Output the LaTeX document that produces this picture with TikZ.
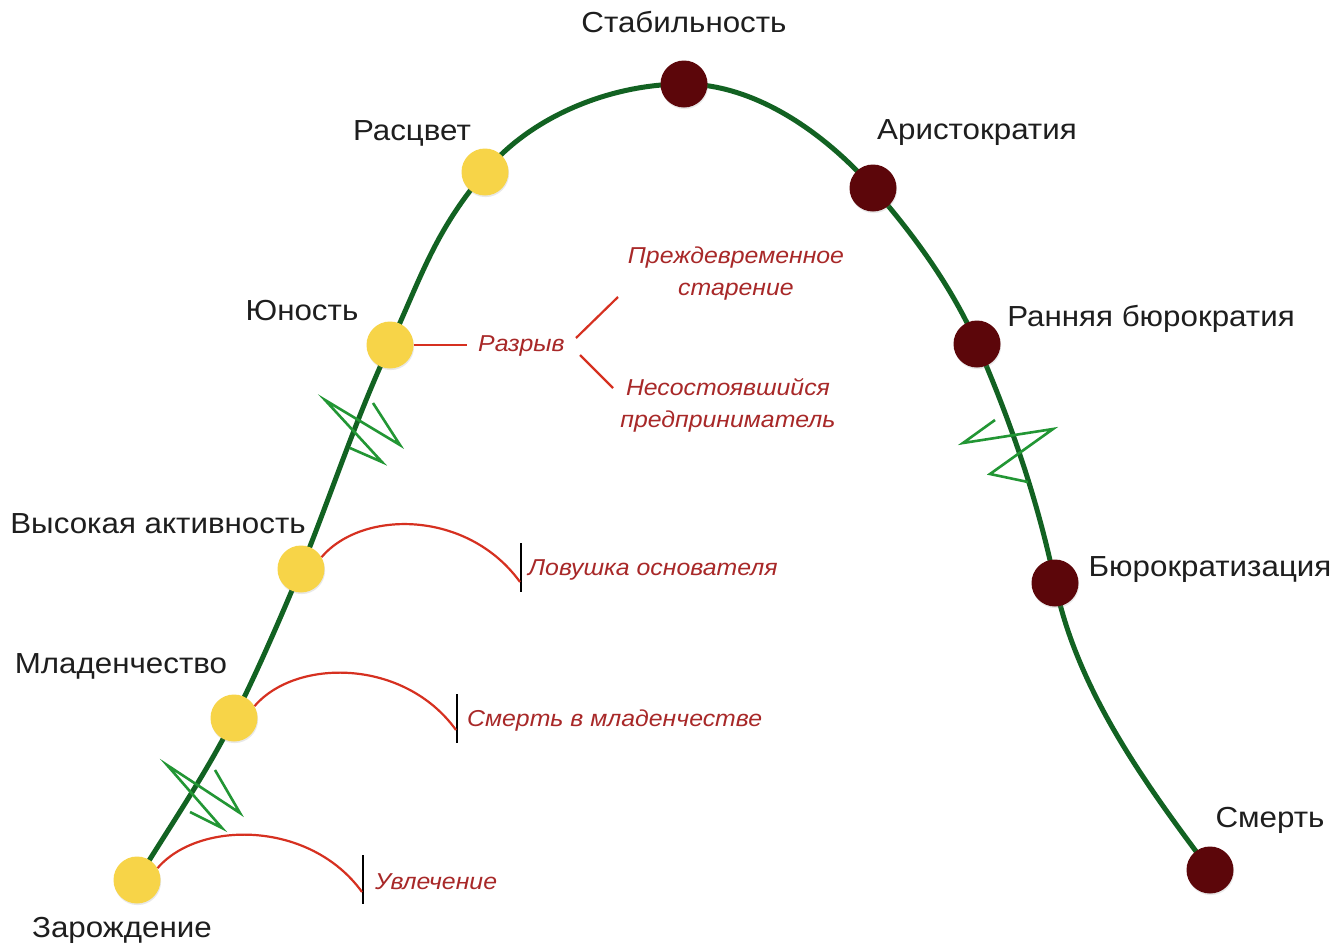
\documentclass[tikz,border=0pt]{standalone}
\usepackage{fontspec}
\setmainfont[FakeStretch=1.08]{Liberation Sans}
\usetikzlibrary{shadows}
\definecolor{yel}{RGB}{247,212,72}
\definecolor{dred}{RGB}{92,6,10}
\definecolor{mgreen}{RGB}{18,98,34}
\definecolor{zgreen}{RGB}{34,150,52}
\definecolor{redc}{RGB}{214,48,32}
\definecolor{rtext}{RGB}{168,40,40}
\definecolor{btext}{RGB}{30,30,30}
\begin{document}
\begin{tikzpicture}[x=1pt,y=-1pt,
  lbl/.style={font=\fontsize{29}{32}\selectfont, text=btext, inner sep=0},
  rlbl/.style={font=\fontsize{23}{32}\selectfont\itshape, text=rtext, inner sep=0, align=center},
  dot/.style={circle, minimum size=47pt, inner sep=0, drop shadow={opacity=0.18, shadow xshift=0.6pt, shadow yshift=-1.6pt}},
  ycirc/.style={dot, fill=yel},
  dcirc/.style={dot, fill=dred},
  mainline/.style={line width=5pt, draw=mgreen},
  zz/.style={line width=2.6pt, draw=zgreen, line join=miter},
  rcon/.style={line width=2.2pt, draw=redc},
  barline/.style={line width=2.5pt, draw=black}]
\useasboundingbox (0,0) rectangle (1344,948);
\fill[white] (0,0) rectangle (1344,948);

% stage positions
\coordinate (pzar) at (137,880);
\coordinate (pmlad) at (234,718);
\coordinate (pvys) at (301,569);
\coordinate (pyun) at (390,345);
\coordinate (pras) at (485,172);
\coordinate (pstab) at (684,84);
\coordinate (pari) at (873,188);
\coordinate (prb) at (977,344);
\coordinate (pbur) at (1055,583);
\coordinate (psm) at (1210,870);

% main curve
\draw[mainline] (pzar)
  .. controls (170,826) and (206,774) .. (pmlad)
  .. controls (258.5,669) and (280,619) .. (pvys)
  .. controls (331,495) and (356,418) .. (pyun)
  .. controls (423,273) and (434,233) .. (pras)
  .. controls (531,116) and (611,84) .. (pstab)
  .. controls (756,84) and (825.5,134) .. (pari)
  .. controls (914,235) and (952,287) .. (prb)
  .. controls (1010.6,421) and (1038,501) .. (pbur)
  .. controls (1077,690) and (1144.6,783) .. (psm);

% zigzags
\draw[zz] (215,770) -- (240,813) -- (167,765) -- (222,828) -- (190,812);
\draw[zz] (373,403) -- (400,445) -- (325,400) -- (382,462) -- (350,448);
\draw[zz] (995,420) -- (963,443) -- (1053,429) -- (990,474) -- (1028,482);

% circles
\node[ycirc] (zar) at (pzar) {};
\node[ycirc] (mlad) at (pmlad) {};
\node[ycirc] (vys) at (pvys) {};
\node[ycirc] (yun) at (pyun) {};
\node[ycirc] (ras) at (pras) {};
\node[dcirc] (stab) at (pstab) {};
\node[dcirc] (ari) at (pari) {};
\node[dcirc] (rb) at (prb) {};
\node[dcirc] (bur) at (pbur) {};
\node[dcirc] (sm) at (psm) {};

% black labels
\node[lbl] (lstab) at (684,22) {Стабильность};
\node[lbl] (lras) at (412,133) {Расцвет};
\node[lbl] (lari) at (977,133) {Аристократия};
\node[lbl] (lyun) at (302,311) {Юность};
\node[lbl] (lrb) at (1151,319) {Ранняя бюрократия};
\node[lbl] (lvys) at (158,524) {Высокая активность};
\node[lbl] (lbur) at (1210,570) {Бюрократизация};
\node[lbl] (lmlad) at (121,666) {Младенчество};
\node[lbl] (lsm) at (1270,820) {Смерть};
\node[lbl] (lzar) at (122,930) {Зарождение};

% trap bars
\coordinate (b1t) at (363,855); \coordinate (b1b) at (363,904);
\coordinate (b2t) at (457,694); \coordinate (b2b) at (457,743);
\coordinate (b3t) at (521,543); \coordinate (b3b) at (521,592);
\draw[barline] (b1t) -- (b1b);
\draw[barline] (b2t) -- (b2b);
\draw[barline] (b3t) -- (b3b);
\coordinate (e1) at (362,892);
\coordinate (e2) at (456,730);
\coordinate (e3) at (520,582);

% red arcs
\draw[rcon] (zar.30) .. controls +(41,-48) and +(-52,-72) .. (e1);
\draw[rcon] (mlad.30) .. controls +(41,-48) and +(-52,-72) .. (e2);
\draw[rcon] (vys.30) .. controls +(41,-48) and +(-52,-72) .. (e3);

% red labels
\node[rlbl, anchor=west] (luv) at (375,882) {Увлечение};
\node[rlbl, anchor=west] (lsmm) at (467,721) {Смерть в младенчестве};
\node[rlbl, anchor=west] (llov) at (528,570) {Ловушка основателя};
\node[rlbl, anchor=west] (lraz) at (478,346) {Разрыв};
\node[rlbl] (lpre) at (736,274) {Преждевременное\\старение};
\node[rlbl] (lnes) at (728,405) {Несостоявшийся\\предприниматель};

% gap connectors
\coordinate (g1) at (467,345);
\draw[rcon] (yun.east) -- (g1);
\coordinate (u1) at (576,338); \coordinate (u2) at (618,297);
\coordinate (d1) at (580,355); \coordinate (d2) at (613,388);
\draw[rcon] (u1) -- (u2);
\draw[rcon] (d1) -- (d2);
\end{tikzpicture}
\end{document}
